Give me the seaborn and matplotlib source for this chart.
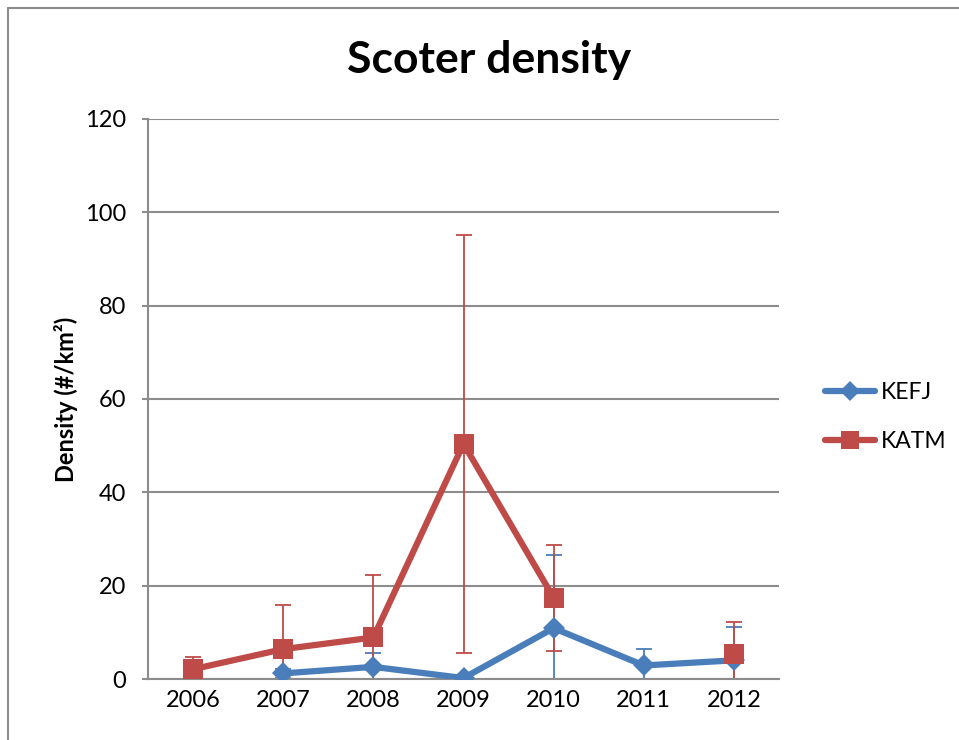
import numpy as np
import pandas as pd
import seaborn as sns
import matplotlib
matplotlib.use("Agg")
import matplotlib.pyplot as plt
from matplotlib.lines import Line2D

years = ["2006", "2007", "2008", "2009", "2010", "2011", "2012"]
kefj = [np.nan, 1.2, 2.6, 0.2, 10.9, 2.9, 4.0]
kefj_err = [np.nan, 1.0, 3.0, 0.0, 15.7, 3.5, 7.1]
katm = [2.1, 6.4, 8.9, 50.4, 17.4, np.nan, 5.3]
katm_err = [2.6, 9.5, 13.4, 44.8, 11.3, np.nan, 7.0]
series_names = ["KEFJ", "KATM"]
colors = {"KEFJ": "#4A7EBB", "KATM": "#BE4B48"}

sns.set_theme(style="white")
plt.rcParams["font.family"] = ["Lato", "DejaVu Sans"]
plt.rcParams["text.color"] = "black"
plt.rcParams["axes.labelcolor"] = "black"

rows = []
for name, vals, errs in [("KEFJ", kefj, kefj_err), ("KATM", katm, katm_err)]:
    seg = 0
    for i, (v, e) in enumerate(zip(vals, errs)):
        if np.isnan(v):
            seg += 1
            continue
        rows.append({"x": i, "y": v, "err": e, "series": name, "seg": seg})
df = pd.DataFrame(rows)

fig = plt.figure(figsize=(9.59, 7.40), dpi=100)
W, H = 959, 740
ax = fig.add_axes([148 / W, 1 - 679 / H, (779 - 148) / W, (679 - 119) / H])

# error bars
for name in series_names:
    d = df[df["series"] == name]
    ax.errorbar(d["x"], d["y"], yerr=d["err"], fmt="none", ecolor=colors[name],
                elinewidth=1.3, capsize=6, capthick=1.3, zorder=2)

markers = {"KEFJ": "D", "KATM": "s"}
sizes = {"KEFJ": 11, "KATM": 14}
for name in series_names:
    d = df[df["series"] == name]
    sns.lineplot(data=d, x="x", y="y", units="seg", estimator=None, ax=ax,
                 color=colors[name], linewidth=4.5, marker=markers[name],
                 markersize=sizes[name], markeredgewidth=0, zorder=3, legend=False)

ax.set_xlim(-0.5, 6.5)
ax.set_ylim(0, 120)
ax.set_yticks(np.arange(0, 121, 20))
ax.set_xticks(range(len(years)))
ax.set_xticklabels(years)
ax.tick_params(axis="both", labelsize=17, labelcolor="black", colors="#8C8C8C", pad=8)
ax.tick_params(axis="x", length=0)
ax.tick_params(axis="y", length=4, width=1.5, direction="out", left=True, pad=12)
ax.yaxis.grid(True, color="#8C8C8C", linewidth=1.5)
ax.set_axisbelow(True)
for s in ["top", "right"]:
    ax.spines[s].set_visible(False)
for s in ["left", "bottom"]:
    ax.spines[s].set_color("#8C8C8C")
    ax.spines[s].set_linewidth(1.5)
ax.set_xlabel("")
ax.set_ylabel("Density (#/km²)", fontsize=17, fontweight="bold", labelpad=5)

fig.text(489 / W, 1 - 60 / H, "Scoter density", ha="center", va="center",
         fontsize=32, fontweight="bold", color="black")

handles = [Line2D([0], [0], color=colors[n], linewidth=4.5, marker=markers[n],
                  markersize=sizes[n] - 1, markeredgewidth=0) for n in series_names]
leg = fig.legend(handles, series_names, loc="center left",
                 bbox_to_anchor=(804 / W, 1 - 417 / H), frameon=False, fontsize=16.5,
                 handlelength=2.2, labelspacing=1.25, handletextpad=0.25)
for t in leg.get_texts():
    t.set_color("black")

# outer chart border (top and left edges visible)
fig.add_artist(Line2D([8 / W, 1], [1 - 8 / H, 1 - 8 / H], transform=fig.transFigure,
                      color="#8C8C8C", linewidth=1.5))
fig.add_artist(Line2D([8 / W, 8 / W], [0, 1 - 8 / H], transform=fig.transFigure,
                      color="#8C8C8C", linewidth=1.5))

fig.savefig("out.png", dpi=100)
